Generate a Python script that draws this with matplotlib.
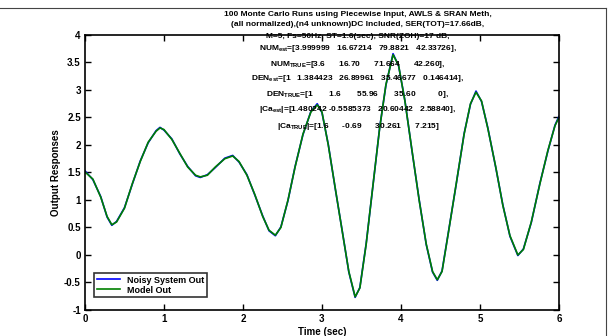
import matplotlib
matplotlib.use("Agg")
import matplotlib.pyplot as plt
from matplotlib.lines import Line2D

plt.rcParams['font.family'] = ['Liberation Sans', 'DejaVu Sans']
plt.rcParams['font.weight'] = 'bold'
plt.rcParams['mathtext.fontset'] = 'custom'
plt.rcParams['mathtext.bf'] = 'Liberation Sans:bold'
plt.rcParams['mathtext.rm'] = 'Liberation Sans:bold'
plt.rcParams['mathtext.it'] = 'Liberation Sans:bold'

# time samples (sec) and responses
t = [0.0, 0.1, 0.2, 0.28, 0.34, 0.4, 0.5, 0.6, 0.7, 0.8, 0.9, 0.95,
     1.0, 1.1, 1.2, 1.3, 1.4, 1.46, 1.55, 1.65, 1.77, 1.87,
     1.95, 2.05, 2.15, 2.25, 2.33, 2.41, 2.48, 2.57, 2.66, 2.76, 2.86, 2.94,
     3.0, 3.08, 3.17, 3.26, 3.34, 3.42, 3.48, 3.56, 3.64, 3.73, 3.81, 3.9,
     3.97, 4.05, 4.14, 4.23, 4.32, 4.4, 4.46, 4.52, 4.6, 4.7, 4.8, 4.88, 4.95,
     5.02, 5.1, 5.2, 5.29, 5.38, 5.48, 5.55, 5.65, 5.76, 5.86, 5.95, 6.0]

model_out = [1.51, 1.38, 1.05, 0.70, 0.55, 0.60, 0.85, 1.30, 1.70, 2.05, 2.25, 2.31,
             2.28, 2.10, 1.85, 1.60, 1.45, 1.42, 1.45, 1.60, 1.75, 1.80,
             1.70, 1.45, 1.10, 0.70, 0.45, 0.36, 0.50, 1.00, 1.60, 2.20, 2.60, 2.73,
             2.60, 2.00, 1.20, 0.40, -0.30, -0.76, -0.60, 0.20, 1.20, 2.30, 3.10, 3.64,
             3.45, 2.80, 1.90, 1.00, 0.20, -0.30, -0.45, -0.30, 0.40, 1.30, 2.20, 2.75, 2.96,
             2.80, 2.30, 1.60, 0.90, 0.35, 0.00, 0.10, 0.60, 1.30, 1.90, 2.35, 2.50]

noisy_out = [1.53, 1.37, 1.06, 0.69, 0.54, 0.61, 0.86, 1.29, 1.71, 2.04, 2.26, 2.32,
             2.27, 2.11, 1.84, 1.61, 1.44, 1.41, 1.46, 1.59, 1.76, 1.81,
             1.69, 1.46, 1.09, 0.71, 0.44, 0.35, 0.51, 0.99, 1.61, 2.19, 2.61, 2.75,
             2.59, 2.01, 1.19, 0.41, -0.31, -0.77, -0.59, 0.21, 1.19, 2.31, 3.09, 3.66,
             3.44, 2.81, 1.89, 1.01, 0.19, -0.31, -0.46, -0.29, 0.41, 1.29, 2.21, 2.74, 2.98,
             2.79, 2.31, 1.59, 0.91, 0.34, -0.01, 0.11, 0.59, 1.31, 1.89, 2.36, 2.52]

title_lines = [
    "100 Monte Carlo Runs using Piecewise Input, AWLS & SRAN Meth,",
    "(all normalized),(n4 unknown)DC Included, SER(TOT)=17.66dB,",
    "M=5, Fs=50Hz, ST=1.6(sec), SNR(ZOH)=17 dB,",
    r"NUM$_{\mathbf{est}}$=[3.999999   16.67214   79.8821   42.33726],",
    r"NUM$_{\mathbf{TRUE}}$=[3.6      16.70      71.664      42.260],",
    r"DEN$_{\mathbf{est}}$=[1   1.384423   26.89961   35.46677   0.146414],",
    r"DEN$_{\mathbf{TRUE}}$=[1       1.6       55.96       35.60          0],",
    r"|Ca$_{\mathbf{est}}$|=[1.480242 -0.5585373   20.60442   2.58840],",
    r"|Ca$_{\mathbf{TRUE}}$|=[1.6      -0.69      30.261      7.215]",
]
title_y = [14, 25, 37, 48, 64, 79, 95, 110, 126]

fig = plt.figure(figsize=(6.1, 3.36), dpi=100)
ax = fig.add_axes([0.1393, 0.0774, 0.777, 0.8185])

ax.plot(t, noisy_out, color='#0000ff', lw=1.2, label='Noisy System Out')
ax.plot(t, model_out, color='#008000', lw=1.2, label='Model Out')

ax.set_xlim(0, 6)
ax.set_ylim(-1, 4)
ax.set_xticks(range(0, 7))
ax.set_yticks([-1, -0.5, 0, 0.5, 1, 1.5, 2, 2.5, 3, 3.5, 4])
ax.set_yticklabels(['-1', '-0.5', '0', '0.5', '1', '1.5', '2', '2.5', '3', '3.5', '4'])
ax.tick_params(direction='in', length=4, width=1, labelsize=7, top=True, right=True, pad=3)
for s in ax.spines.values():
    s.set_linewidth(1.2)
ax.set_xlabel('Time (sec)', fontsize=7, fontweight='bold', labelpad=2)
ax.set_ylabel('Output Responses', fontsize=7, fontweight='bold', labelpad=2)

leg = ax.legend(loc='lower left', fontsize=6.5, frameon=True, fancybox=False,
                edgecolor='black', handlelength=2.5, borderpad=0.3,
                labelspacing=0.1, bbox_to_anchor=(0.01, 0.03))
leg.get_frame().set_linewidth(1.2)

for line, y in zip(title_lines, title_y):
    fig.text(358 / 610, 1 - y / 336, line, ha='center', va='center',
             fontsize=6, fontweight='bold')

# figure frame edges visible in the screenshot
fig.add_artist(Line2D([0, 606 / 610], [1 - 8 / 336, 1 - 8 / 336], color='#444444', lw=0.8))
fig.add_artist(Line2D([606 / 610, 606 / 610], [0, 1 - 8 / 336], color='#444444', lw=0.8))

fig.savefig('out.png', dpi=100)
